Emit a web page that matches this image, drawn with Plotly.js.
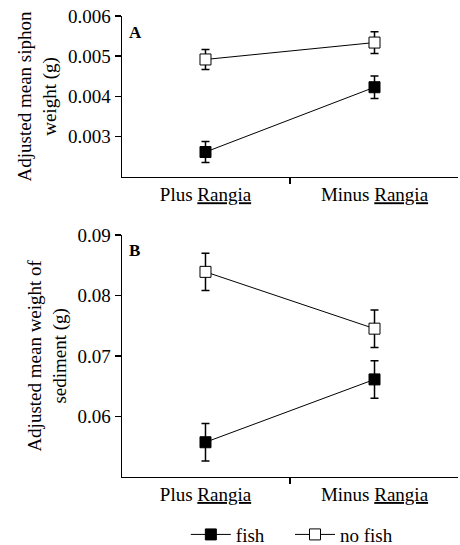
<!DOCTYPE html>
<html>
<head>
<meta charset="utf-8">
<script src="https://cdn.plot.ly/plotly-3.0.1.min.js"></script>
<style>html,body{margin:0;padding:0;background:#fff;}#chart{width:460px;height:545px;}</style>
</head>
<body>
<div id="chart"></div>
<script>
// ---- data ----
var categories = ["Plus <u>Rangia</u>", "Minus <u>Rangia</u>"];
var seriesNames = ["fish", "no fish"];

var siphonFish = [0.00262, 0.00423];
var siphonFishErr = [0.00026, 0.00028];
var siphonNoFish = [0.00492, 0.00534];
var siphonNoFishErr = [0.00025, 0.00027];

var sedimentFish = [0.0557, 0.0661];
var sedimentFishErr = [0.0031, 0.0031];
var sedimentNoFish = [0.0839, 0.0745];
var sedimentNoFishErr = [0.0031, 0.0031];

var siphonTicks = [0.003, 0.004, 0.005, 0.006];
var sedimentTicks = [0.06, 0.07, 0.08, 0.09];

var panelLabels = ["A", "B"];
var yTitles = ["Adjusted mean siphon<br>weight (g)", "Adjusted mean weight of<br>sediment (g)"];

// ---- styling ----
var FONT = "Liberation Serif, Times New Roman, serif";
function mk(y, err, name, filled, xa, ya, show, leg) {
  return {
    type: "scatter", mode: "lines+markers",
    x: categories, y: y, name: name, xaxis: xa, yaxis: ya,
    showlegend: show, legendgroup: name, legend: leg,
    line: {color: "#000", width: 1},
    marker: {symbol: "square", size: 11, color: filled ? "#000" : "#fff", line: {color: "#000", width: 1}},
    error_y: {type: "data", array: err, symmetric: true, color: "#000", thickness: 1.5, width: 4},
    cliponaxis: false
  };
}

var data = [
  mk(siphonFish, siphonFishErr, seriesNames[0], true, "x", "y", true, "legend"),
  mk(siphonNoFish, siphonNoFishErr, seriesNames[1], false, "x", "y", true, "legend2"),
  mk(sedimentFish, sedimentFishErr, seriesNames[0], true, "x2", "y2", false, "legend"),
  mk(sedimentNoFish, sedimentNoFishErr, seriesNames[1], false, "x2", "y2", false, "legend2")
];

function xax(anchor) {
  return {
    type: "category", anchor: anchor, domain: [0, 1], range: [-0.494, 1.494],
    tickson: "boundaries", ticks: "outside", ticklen: 6, tickwidth: 1.5, tickcolor: "#000",
    showline: true, linecolor: "#000", linewidth: 1.5, showgrid: false, zeroline: false,
    tickfont: {family: FONT, size: 19, color: "#000"}, fixedrange: true
  };
}
function yax(anchor, domain, range, ticks, title) {
  return {
    anchor: anchor, domain: domain, range: range, tickvals: ticks,
    ticktext: ticks.map(function (v) { return String(v); }),
    ticks: "outside", ticklen: 6, tickwidth: 1.5, tickcolor: "#000",
    showline: true, linecolor: "#000", linewidth: 1.5, showgrid: false, zeroline: false,
    tickfont: {family: FONT, size: 19, color: "#000"},
    title: {text: title, font: {family: FONT, size: 19, color: "#000"}, standoff: 6},
    fixedrange: true
  };
}
function leg(x) {
  return {
    orientation: "h", x: x, xanchor: "left", y: -0.016, yanchor: "bottom",
    font: {family: FONT, size: 19, color: "#000"}, itemwidth: 40,
    bgcolor: "rgba(0,0,0,0)"
  };
}

var layout = {
  width: 460, height: 545,
  margin: {l: 122, r: 2, t: 10, b: 0, autoexpand: false},
  paper_bgcolor: "#fff", plot_bgcolor: "#fff",
  font: {family: FONT, size: 19, color: "#000"},
  xaxis: xax("y"),
  yaxis: yax("x", [0.6879, 0.9888], [0.002, 0.006], siphonTicks, yTitles[0]),
  xaxis2: xax("y2"),
  yaxis2: yax("x2", [0.1277, 0.5794], [0.05, 0.09], sedimentTicks, yTitles[1]),
  showlegend: true,
  legend: leg(0.19),
  legend2: leg(0.50),
  annotations: [
    {text: "<b>" + panelLabels[0] + "</b>", xref: "x domain", yref: "y domain", x: 0.015, y: 0.90,
     xanchor: "left", yanchor: "middle", showarrow: false, font: {family: FONT, size: 17, color: "#000"}},
    {text: "<b>" + panelLabels[1] + "</b>", xref: "x2 domain", yref: "y2 domain", x: 0.015, y: 0.936,
     xanchor: "left", yanchor: "middle", showarrow: false, font: {family: FONT, size: 17, color: "#000"}}
  ]
};

Plotly.newPlot("chart", data, layout, {displayModeBar: false, staticPlot: true});
</script>
</body>
</html>
